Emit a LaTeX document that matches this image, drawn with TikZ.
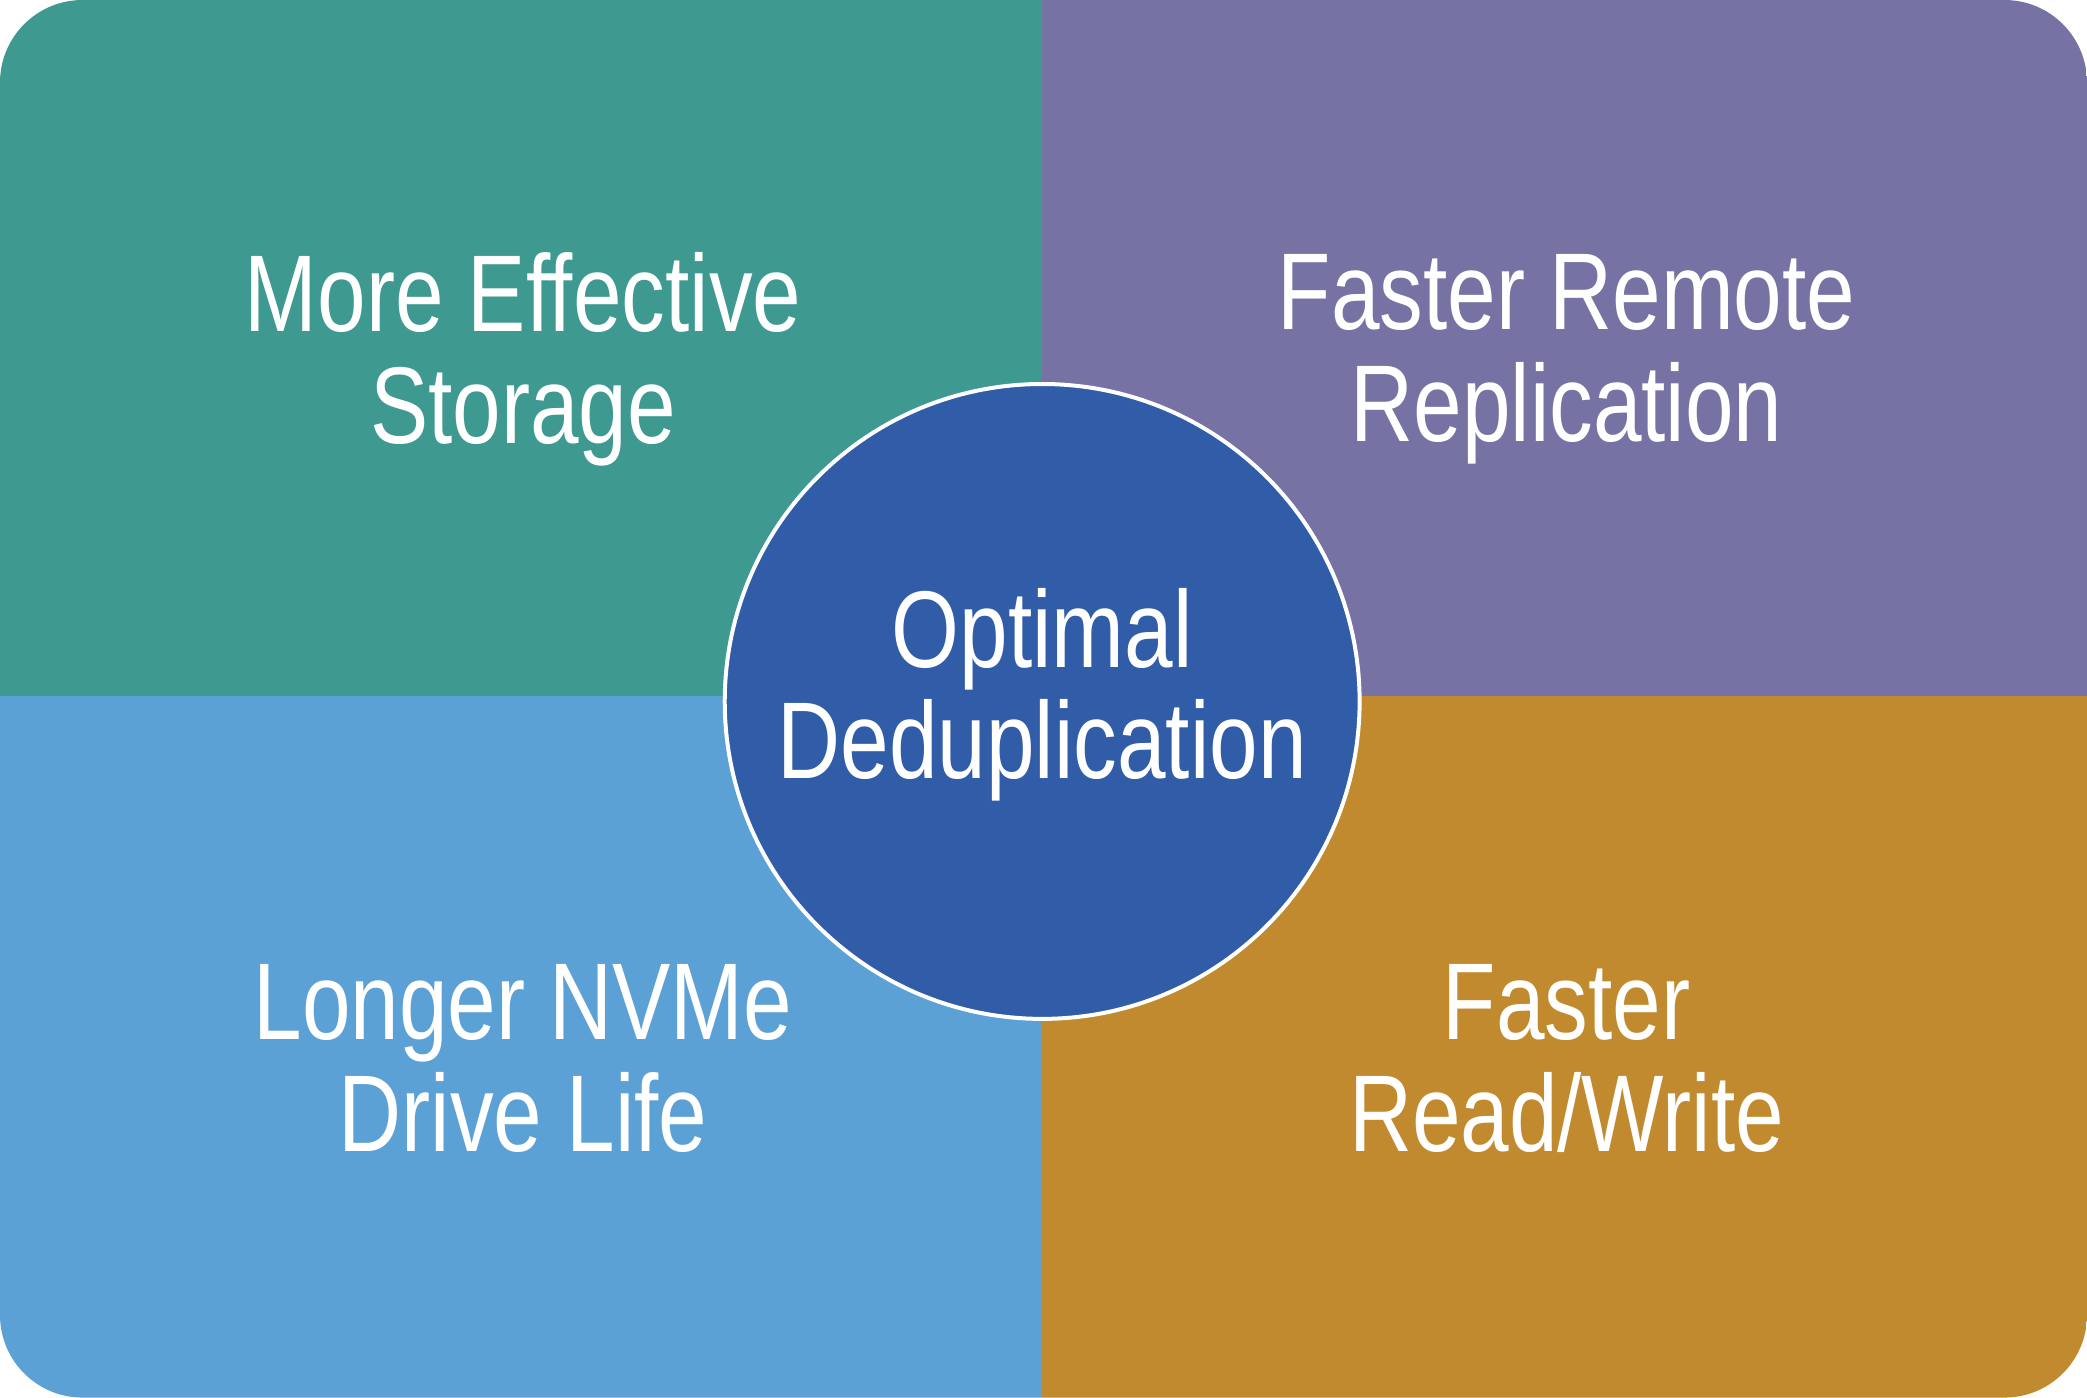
\documentclass[tikz,border=0pt]{standalone}
\usepackage{fontspec}
\setmainfont{Liberation Sans}[FakeStretch=0.8]
\definecolor{cteal}{HTML}{3E9990}
\definecolor{cpurp}{HTML}{7672A3}
\definecolor{clblue}{HTML}{5BA1D5}
\definecolor{cgold}{HTML}{C28A2E}
\definecolor{cblue}{HTML}{315CA8}
\begin{document}
\begin{tikzpicture}[x=1pt,y=-1pt,
  lbl/.style={text=white,align=center,font=\fontsize{82}{84}\selectfont}]
\useasboundingbox (0,0) rectangle (1568,1050);
\begin{scope}
\clip[rounded corners=62pt] (0,0) rectangle (1568,1050);
\fill[cteal] (0,0) rectangle (783,523);
\fill[cpurp] (783,0) rectangle (1568,523);
\fill[clblue] (0,523) rectangle (783,1050);
\fill[cgold] (783,523) rectangle (1568,1050);
\end{scope}
\node[circle,fill=cblue,draw=white,line width=3pt,minimum size=477pt,inner sep=0pt] (c) at (783,527) {};
\node[lbl] at (783,522) (ct) {Optimal\\Deduplication};
\node[lbl] (tl) at (393,270) {More Effective\\Storage};
\node[lbl] (tr) at (1177,270) {Faster Remote\\Replication};
\node[lbl] (bl) at (393,795) {Longer NVMe\\Drive Life};
\node[lbl] (br) at (1177,795) {Faster\\Read/Write};
\end{tikzpicture}
\end{document}
